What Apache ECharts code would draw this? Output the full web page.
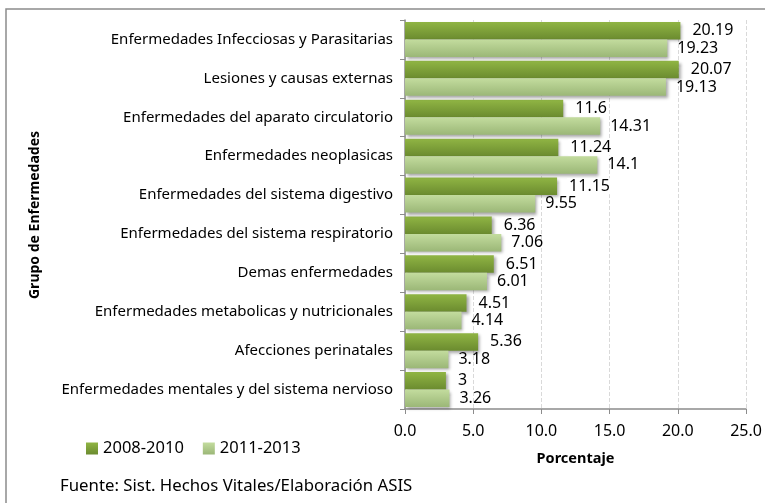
<!DOCTYPE html>
<html><head><meta charset="utf-8">
<script src="https://cdn.jsdelivr.net/npm/echarts@6/dist/echarts.min.js"></script>
<style>html,body{margin:0;padding:0;background:#fff}#c{width:765px;height:503px}</style>
</head><body><div id="c"></div>
<script>
var categories = [
  "Enfermedades Infecciosas y Parasitarias",
  "Lesiones y causas externas",
  "Enfermedades del aparato circulatorio",
  "Enfermedades neoplasicas",
  "Enfermedades del sistema digestivo",
  "Enfermedades del sistema respiratorio",
  "Demas enfermedades",
  "Enfermedades metabolicas y nutricionales",
  "Afecciones perinatales",
  "Enfermedades mentales y del sistema nervioso"
];
var series2008 = [20.19, 20.07, 11.6, 11.24, 11.15, 6.36, 6.51, 4.51, 5.36, 3];
var series2011 = [19.23, 19.13, 14.31, 14.1, 9.55, 7.06, 6.01, 4.14, 3.18, 3.26];
var seriesNames = ["2008-2010", "2011-2013"];
var xTicks = [0, 5, 10, 15, 20, 25];

var FONT = "'Noto Sans', 'Open Sans', sans-serif";
function grad(top, bottom) {
  return new echarts.graphic.LinearGradient(0, 0, 0, 1, [
    {offset: 0, color: top}, {offset: 1, color: bottom}
  ]);
}
var chart = echarts.init(document.getElementById('c'), null, {renderer: 'canvas'});
var labelStyle = {
  show: true, position: 'right', distance: 10,
  color: '#000', fontFamily: FONT, fontSize: 16,
  backgroundColor: '#fff', padding: [0, 2, 0, 2],
  formatter: function (p) { return String(p.value); }
};
chart.setOption({
  animation: false,
  textStyle: {fontFamily: FONT},
  graphic: [
    {type: 'rect', shape: {x: 6, y: 9, width: 800, height: 540},
     style: {fill: 'none', stroke: '#8c8c8c', lineWidth: 1.5}, z: -1},
    {type: 'text', left: 60, top: 478,
     style: {text: 'Fuente: Sist. Hechos Vitales/Elaboración ASIS', font: '16.8px ' + FONT, fill: '#000'}},
    {type: 'text', x: 35, y: 215, rotation: Math.PI / 2,
     style: {text: 'Grupo de Enfermedades', font: 'bold 14px ' + FONT, fill: '#000',
       align: 'center', verticalAlign: 'middle'}}
  ],
  legend: {
    left: 81, top: 435, itemWidth: 12, itemHeight: 12, itemGap: 19,
    icon: 'rect',
    textStyle: {fontSize: 16.5, color: '#000', fontFamily: FONT},
    data: seriesNames
  },
  grid: {left: 405, right: 19, top: 20, bottom: 94, containLabel: false},
  xAxis: {
    type: 'value', min: 0, max: 25, interval: 5,
    name: 'Porcentaje', nameLocation: 'middle', nameGap: 42,
    nameTextStyle: {fontWeight: 'bold', fontSize: 14.5, color: '#000', fontFamily: FONT},
    axisLine: {show: true, lineStyle: {color: '#8c8c8c', width: 1.5}},
    axisTick: {show: true, length: 5, lineStyle: {color: '#8c8c8c'}},
    axisLabel: {color: '#000', fontSize: 16, margin: 14, fontFamily: FONT,
      formatter: function (v) { return v.toFixed(1); }},
    splitLine: {show: true, lineStyle: {color: '#d9d9d9', type: 'dashed'}}
  },
  yAxis: {
    type: 'category', data: categories, inverse: true,
    axisLine: {show: true, lineStyle: {color: '#8c8c8c', width: 1.5}},
    axisTick: {show: true, length: 5, lineStyle: {color: '#8c8c8c'}},
    axisLabel: {color: '#000', fontSize: 15, margin: 12, fontFamily: FONT,
      lineHeight: 20, padding: [5, 0, 0, 0]}
  },
  series: [
    {name: seriesNames[0], type: 'bar', data: series2008, barGap: '0%', barCategoryGap: '10%',
     itemStyle: {color: grad('#90b544', '#6b8b2f'), shadowColor: 'rgba(0,0,0,0.35)', shadowBlur: 3, shadowOffsetX: 2, shadowOffsetY: 2},
     label: labelStyle},
    {name: seriesNames[1], type: 'bar', data: series2011, barGap: '0%', barCategoryGap: '10%',
     itemStyle: {color: grad('#c3dc9e', '#9bb777'), shadowColor: 'rgba(0,0,0,0.35)', shadowBlur: 3, shadowOffsetX: 2, shadowOffsetY: 2},
     label: Object.assign({}, labelStyle, {backgroundColor: 'transparent', distance: 8})}
  ]
});
</script></body></html>
